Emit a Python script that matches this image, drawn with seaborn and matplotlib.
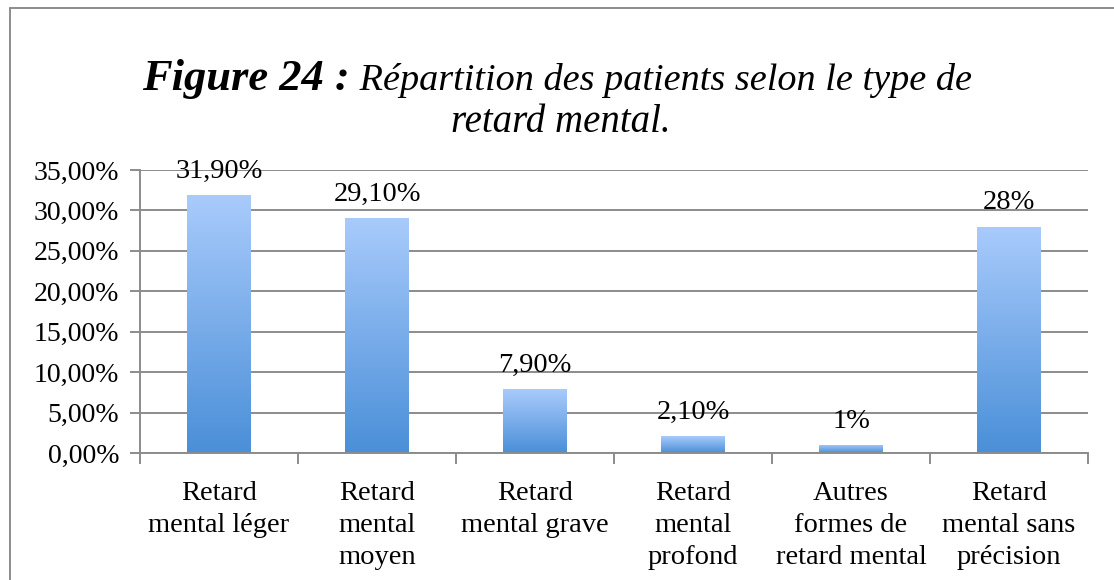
import numpy as np
import pandas as pd
import seaborn as sns
import matplotlib.pyplot as plt
from matplotlib.colors import LinearSegmentedColormap
from matplotlib.lines import Line2D

# donnees
categories = ["Retard\nmental léger", "Retard\nmental\nmoyen", "Retard\nmental grave",
              "Retard\nmental\nprofond", "Autres\nformes de\nretard mental",
              "Retard\nmental sans\nprécision"]
valeurs = [31.9, 29.1, 7.9, 2.1, 1.0, 28.0]
etiquettes = ["31,90%", "29,10%", "7,90%", "2,10%", "1%", "28%"]
yticks = [0, 5, 10, 15, 20, 25, 30, 35]

sns.set_theme(style="white")
plt.rcParams['font.family'] = ['Liberation Serif', 'DejaVu Serif']
plt.rcParams['text.color'] = 'black'
plt.rcParams['xtick.color'] = 'black'
plt.rcParams['ytick.color'] = 'black'

df = pd.DataFrame({"cat": categories, "val": valeurs})

fig = plt.figure(figsize=(11.14, 5.8), dpi=100)
ax = fig.add_axes([0.1257, 0.219, 0.851, 0.488])

sns.barplot(data=df, x="cat", y="val", ax=ax, width=0.4, color="#7fb0ee", saturation=1)

ax.set_ylim(0, 35)
ax.set_xlim(-0.5, len(categories) - 0.5)
ax.set_yticks(yticks)
ax.set_yticklabels([f"{v:.2f}".replace(".", ",") + "%" for v in yticks], fontsize=20)
ax.set_xlabel("")
ax.set_ylabel("")
ax.grid(axis="y", color="#8c8c8c", linewidth=1.4)
ax.set_axisbelow(True)
for s in ["top", "right"]:
    ax.spines[s].set_visible(False)
for s in ["left", "bottom"]:
    ax.spines[s].set_color("#8c8c8c")
    ax.spines[s].set_linewidth(1.4)

# ticks x aux limites des categories
ax.set_xticks(np.arange(-0.5, len(categories), 1.0))
ax.set_xticklabels([])
ax.set_xticks(np.arange(len(categories)), minor=True)
ax.set_xticklabels(categories, minor=True, fontsize=20.5, linespacing=1.38)
ax.tick_params(axis="x", which="major", length=8, width=1.4, color="#8c8c8c", direction="out", bottom=True)
ax.tick_params(axis="x", which="minor", length=0, pad=20)
ax.tick_params(axis="y", length=7, width=1.4, color="#8c8c8c", labelcolor="black", direction="out", left=True, pad=8)
for lab in ax.get_xticklabels(minor=True):
    lab.set_verticalalignment("top")

# degrade dans chaque barre
cmap = LinearSegmentedColormap.from_list("bleu", ["#4a8fd8", "#a9cbfc"])
grad = np.linspace(0, 1, 256).reshape(-1, 1)
for p, lab, v in zip(ax.patches, etiquettes, valeurs):
    x0, y0 = p.get_x(), p.get_y()
    w, h = p.get_width(), p.get_height()
    im = ax.imshow(grad, cmap=cmap, origin="lower", extent=[x0, x0 + w, y0, y0 + h],
                   aspect="auto", zorder=2)
    im.set_clip_path(p)
    p.set_facecolor("none")
    p.set_edgecolor("none")
    ax.annotate(lab, (x0 + w / 2, v), xytext=(0, 8), textcoords="offset points",
                ha="center", va="bottom", fontsize=20.5, color="black")
ax.set_xlim(-0.5, len(categories) - 0.5)
ax.set_ylim(0, 35)

# titre
fig.canvas.draw()
r = fig.canvas.get_renderer()
t1 = fig.text(0, 0.845, "Figure 24 :", fontsize=32, fontweight="bold", fontstyle="italic")
t2 = fig.text(0, 0.845, " Répartition des patients selon le type de", fontsize=27.5, fontstyle="italic")
w1 = t1.get_window_extent(r).width / fig.bbox.width
w2 = t2.get_window_extent(r).width / fig.bbox.width
start = 0.5 - (w1 + w2) / 2
t1.set_x(start)
t2.set_x(start + w1)
fig.text(0.503, 0.772, "retard mental.", fontsize=28, fontstyle="italic", ha="center")

# cadre
fig.add_artist(Line2D([10 / 1114, 1.0], [1 - 8 / 580] * 2, transform=fig.transFigure, color="#8c8c8c", lw=1.4))
fig.add_artist(Line2D([10 / 1114] * 2, [0, 1 - 8 / 580], transform=fig.transFigure, color="#8c8c8c", lw=1.4))

fig.savefig("out.png", dpi=100)
